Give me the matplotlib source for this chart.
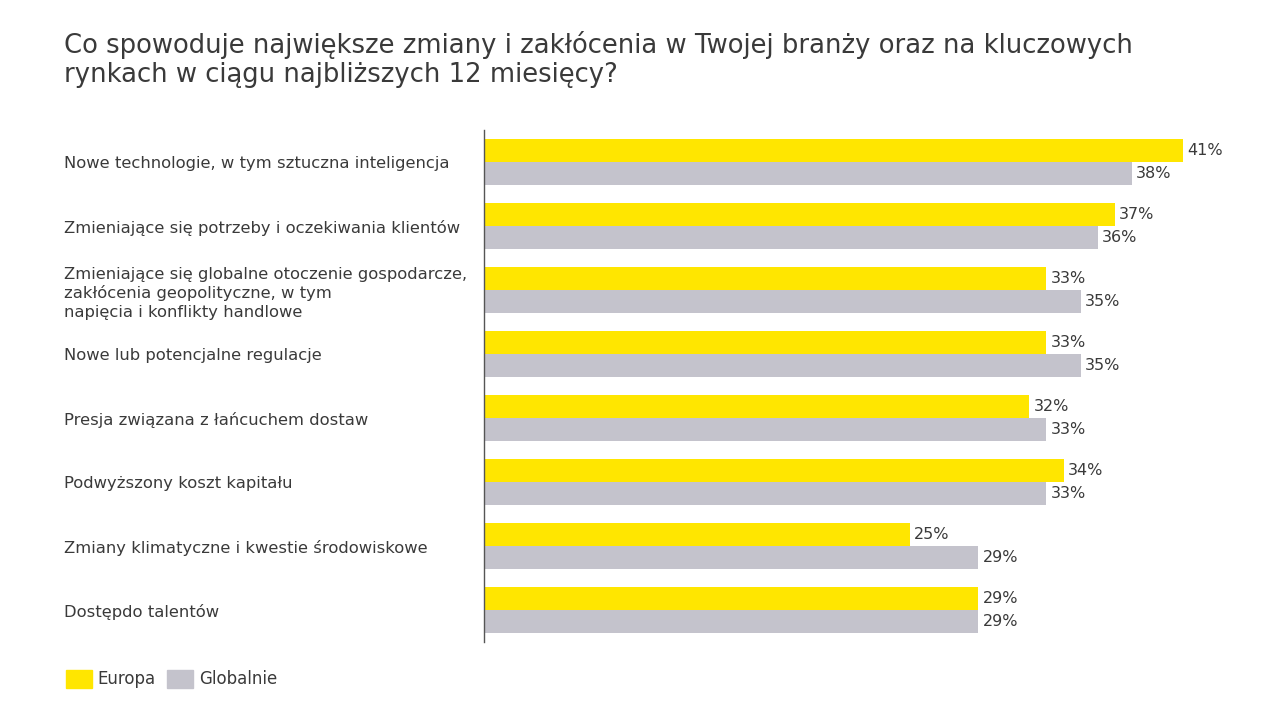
import numpy as np
import matplotlib.pyplot as plt
from matplotlib.patches import Patch

plt.rcParams['font.family'] = ['DejaVu Sans']

categories = [
    'Nowe technologie, w tym sztuczna inteligencja',
    'Zmieniające się potrzeby i oczekiwania klientów',
    'Zmieniające się globalne otoczenie gospodarcze,\nzakłócenia geopolityczne, w tym\nnapięcia i konflikty handlowe',
    'Nowe lub potencjalne regulacje',
    'Presja związana z łańcuchem dostaw',
    'Podwyższony koszt kapitału',
    'Zmiany klimatyczne i kwestie środowiskowe',
    'Dostępdo talentów',
]
europa = [41, 37, 33, 33, 32, 34, 25, 29]
globalnie = [38, 36, 35, 35, 33, 33, 29, 29]

yellow = '#FFE600'
grey = '#C4C3CC'
txt = '#3a3a3a'

W, H = 1281, 720
fig = plt.figure(figsize=(W / 100, H / 100), dpi=100)
ax = fig.add_axes([484 / W, (H - 642) / H, 767 / W, 512 / H])

y = np.arange(len(categories))
h = 0.36
ax.barh(y - h / 2, europa, height=h, color=yellow, label='Europa')
ax.barh(y + h / 2, globalnie, height=h, color=grey, label='Globalnie')

for yi, v in zip(y, europa):
    ax.text(v + 0.25, yi - h / 2, f'{v}%', va='center', ha='left', fontsize=11.5, color=txt)
for yi, v in zip(y, globalnie):
    ax.text(v + 0.25, yi + h / 2, f'{v}%', va='center', ha='left', fontsize=11.5, color=txt)

ax.set_xlim(0, 45)
ax.set_ylim(7.5, -0.5)
ax.set_yticks(y, categories)
for lab in ax.get_yticklabels():
    lab.set_ha('left')
    lab.set_color(txt)
    lab.set_fontsize(11.8)
    lab.set_linespacing(1.3)
ax.tick_params(axis='y', length=0, pad=(484 - 64) * 0.72)
ax.set_xticks([])
for s in ['top', 'right', 'bottom']:
    ax.spines[s].set_visible(False)
ax.spines['left'].set_color('#555555')
ax.spines['left'].set_linewidth(1)

fig.text(64 / W, 1 - 31 / H,
         'Co spowoduje największe zmiany i zakłócenia w Twojej branży oraz na kluczowych\n'
         'rynkach w ciągu najbliższych 12 miesięcy?',
         ha='left', va='top', fontsize=18.6, color=txt, linespacing=1.15)

handles = [Patch(color=yellow, label='Europa'), Patch(color=grey, label='Globalnie')]
fig.legend(handles=handles, loc='center left', bbox_to_anchor=(51 / W, 1 - 679 / H),
           ncol=2, frameon=False, fontsize=12, handlelength=1.55, handleheight=1.3,
           handletextpad=0.35, columnspacing=0.7, labelcolor=txt)

fig.savefig('out.png', dpi=100, facecolor='white')
